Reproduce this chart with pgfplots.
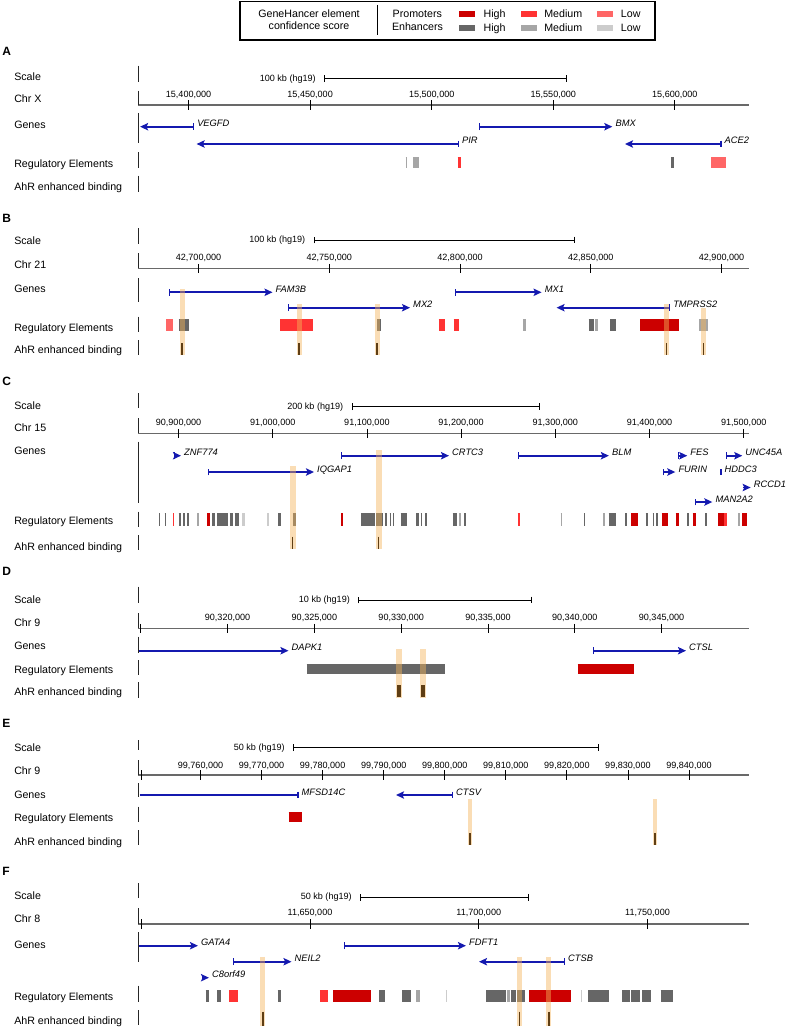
\documentclass[border=0pt]{standalone}
\usepackage{pgfplots}
\pgfplotsset{compat=1.18}
\usepackage{fontspec}
\setmainfont{Liberation Sans}
\usetikzlibrary{arrows.meta}

\definecolor{genecol}{RGB}{20,25,175}
\definecolor{promH}{RGB}{204,0,0}
\definecolor{promM}{RGB}{255,51,51}
\definecolor{promL}{RGB}{255,102,102}
\definecolor{enhH}{RGB}{102,102,102}
\definecolor{enhM}{RGB}{166,166,166}
\definecolor{enhL}{RGB}{204,204,204}
\definecolor{axgray}{RGB}{105,105,105}
\definecolor{hl}{RGB}{245,180,90}
\definecolor{ahr}{RGB}{95,62,20}

\tikzset{
  lab/.style={anchor=base west, inner sep=0pt, font=\fontsize{8}{9.6}\selectfont},
  let/.style={anchor=base west, inner sep=0pt, font=\fontsize{9}{10}\selectfont\bfseries},
  tl/.style={anchor=base, inner sep=0pt, font=\fontsize{6.8}{8}\selectfont},
  sl/.style={anchor=east, inner sep=0pt, xshift=-6pt, font=\fontsize{6.8}{8}\selectfont},
  glab/.style={anchor=base west, inner sep=0pt, xshift=2.2pt, font=\fontsize{7}{8}\selectfont\itshape},
  gene/.style={genecol, line width=1.4pt, {Bar[width=5pt,line width=0.8pt]}-{Stealth[length=6pt,width=5.5pt,inset=1.2pt]}},
  genenb/.style={genecol, line width=1.4pt, -{Stealth[length=6pt,width=5.5pt,inset=1.2pt]}},
  genebr/.style={genecol, line width=1.4pt, -{Bar[width=5pt,line width=0.8pt]}},
  sep/.style={line width=0.7pt, black!85},
}
\pgfplotsset{
  panel/.style={scale only axis, hide axis, clip=false, width=457.875pt,
    enlargelimits=false, anchor=south west},
  chrline/.style={axgray, line width=1.1pt},
  tickm/.style={black, only marks, mark=|, mark size=3.4pt, mark options={line width=0.6pt}},
  scalebar/.style={black, line width=0.6pt, {Bar[width=5pt,line width=0.6pt]}-{Bar[width=5pt,line width=0.6pt]}},
}
% regulatory element: colour/width, y, rows "start end\\"
\newcommand{\reg}[3]{\addplot[#1, quiver={u=\thisrow{e}-\thisrow{s},v=0}] table[x=s, y expr=#2, row sep=\\] {s e\\ #3};}
% vertical bands/marks: style, rows "x ytop length\\"
\newcommand{\vbar}[2]{\addplot[#1, quiver={u=0,v=\thisrow{v}}] table[x=x, y=y, row sep=\\] {x y v\\ #2};}

\begin{document}
\begin{tikzpicture}[x=0.75pt, y=-0.75pt]
\path[use as bounding box] (0,0) rectangle (787,1027);

% ---------------- Legend ----------------
\draw[line width=0.9pt] (240,1.5) rectangle (655,40);
\node[anchor=base, inner sep=0pt, font=\fontsize{8}{9.6}\selectfont] at (309,17.8) {GeneHancer element};
\node[anchor=base, inner sep=0pt, font=\fontsize{8}{9.6}\selectfont] at (309,29.8) {confidence score};
\draw[line width=1.1pt] (377.3,5) -- (377.3,35);
\node[anchor=base, inner sep=0pt, font=\fontsize{8}{9.6}\selectfont] at (417.3,17.6) {Promoters};
\node[anchor=base, inner sep=0pt, font=\fontsize{8}{9.6}\selectfont] at (417.5,31) {Enhancers};
\fill[promH] (459.3,11) rectangle (475.3,16.7);
\fill[promM] (521,11) rectangle (536.7,16.7);
\fill[promL] (597.3,11) rectangle (613.3,16.7);
\fill[enhH] (459.3,25) rectangle (475.3,31.2);
\fill[enhM] (521,25) rectangle (536.7,31.2);
\fill[enhL] (597.3,25) rectangle (613.3,31.2);
\foreach \yy in {17.8,31.6}{
  \node[lab] at (483.3,\yy) {High};
  \node[lab] at (544,\yy) {Medium};
  \node[lab] at (620.7,\yy) {Low};
}

% ---------------- Panel A ----------------
\begin{axis}[panel, at={(103.5pt,-144pt)}, height=110.25pt,
  xmin=29.2, xmax=280.3, ymin=-192, ymax=-45]
% positions in kb minus 15,350 kb (Chr X, hg19)
\addplot[scalebar] coordinates {(105.72,-78.7) (205.72,-78.7)};
\node[sl] at (105.72,-78.7) {100 kb (hg19)};
\addplot[chrline] coordinates {(29.2,-105) (280.3,-105)};
\addplot[tickm] coordinates {(50,-105) (100,-105) (150,-105) (200,-105) (250,-105)};
\node[tl] at (50,-97.6) {15,400,000};
\node[tl] at (100,-97.6) {15,450,000};
\node[tl] at (150,-97.6) {15,500,000};
\node[tl] at (200,-97.6) {15,550,000};
\node[tl] at (250,-97.6) {15,600,000};
\addplot[gene] coordinates {(52.26,-126.7) (30.06,-126.7)}; \node[glab] at (52.26,-126.7) {VEGFD};
\addplot[gene] coordinates {(169.45,-126.7) (224.3,-126.7)}; \node[glab] at (224.3,-126.7) {BMX};
\addplot[gene] coordinates {(161.2,-144) (53.3,-144)}; \node[glab] at (161.2,-144) {PIR};
\addplot[gene] coordinates {(269.2,-144) (229.5,-144)}; \node[glab] at (269.2,-144) {ACE2};
\reg{enhM, line width=8.7pt}{-162.5}{139.25 139.75\\ 142.31 144.78\\}
\reg{promM, line width=8.7pt}{-162.5}{160.61 162.25\\}
\reg{enhH, line width=8.7pt}{-162.5}{248.40 249.63\\}
\reg{promL, line width=8.7pt}{-162.5}{265.05 271.22\\}
\end{axis}

% ---------------- Panel B ----------------
\begin{axis}[panel, at={(103.5pt,-267pt)}, height=113.25pt,
  xmin=26.86, xmax=260.3, ymin=-356, ymax=-205]
% positions in kb minus 42,650 kb (Chr 21, hg19)
\addplot[scalebar] coordinates {(93.98,-240) (193.98,-240)};
\node[sl] at (93.98,-240) {100 kb (hg19)};
\addplot[chrline] coordinates {(26.86,-268.3) (260.3,-268.3)};
\addplot[tickm] coordinates {(50,-268.3) (100,-268.3) (150,-268.3) (200,-268.3) (250,-268.3)};
\node[tl] at (50,-260.6) {42,700,000};
\node[tl] at (100,-260.6) {42,750,000};
\node[tl] at (150,-260.6) {42,800,000};
\node[tl] at (200,-260.6) {42,850,000};
\node[tl] at (250,-260.6) {42,900,000};
\addplot[gene] coordinates {(38.72,-292.3) (78.30,-292.3)}; \node[glab] at (78.30,-292.3) {FAM3B};
\addplot[gene] coordinates {(148.09,-292.3) (181.17,-292.3)}; \node[glab] at (181.17,-292.3) {MX1};
\addplot[gene] coordinates {(84.03,-307.7) (130.88,-307.7)}; \node[glab] at (130.88,-307.7) {MX2};
\addplot[gene] coordinates {(230.3,-307.7) (186.9,-307.7)}; \node[glab] at (230.3,-307.7) {TMPRSS2};
\reg{promL, line width=8.55pt}{-325}{37.57 40.06\\}
\reg{enhH, line width=8.55pt}{-325}{42.35 46.37\\ 118.26 119.79\\ 199.14 201.24\\ 207.36 209.66\\}
\reg{promM, line width=8.55pt}{-325}{81.17 93.79\\ 141.78 144.07\\ 147.51 149.43\\}
\reg{enhM, line width=8.55pt}{-325}{174.09 175.24\\ 201.63 202.58\\ 241.40 244.65\\}
\reg{promH, line width=8.55pt}{-325}{218.83 233.56\\}
\vbar{hl, opacity=0.45, line width=3.75pt}{43.69 -289.3 -65.7\\ 88.43 -304 -51\\ 118.26 -304 -51\\ 228.97 -304 -51\\ 243.02 -308.3 -46.7\\}
\vbar{ahr, line width=0.9pt}{43.69 -343.3 -11.7\\ 88.43 -343.3 -11.7\\ 118.26 -343.3 -11.7\\ 228.97 -343.3 -11.7\\ 243.02 -343.3 -11.7\\}
\end{axis}

% ---------------- Panel C ----------------
\begin{axis}[panel, at={(103.5pt,-413.25pt)}, height=135.75pt,
  xmin=57.0, xmax=705.1, ymin=-551, ymax=-370]
% positions in kb minus 90,800 kb (Chr 15, hg19)
\addplot[scalebar] coordinates {(283.65,-406.7) (483.65,-406.7)};
\node[sl] at (283.65,-406.7) {200 kb (hg19)};
\addplot[chrline] coordinates {(57.0,-433.3) (705.1,-433.3)};
\addplot[tickm] coordinates {(100,-433.3) (200,-433.3) (300,-433.3) (400,-433.3) (500,-433.3) (600,-433.3) (700,-433.3)};
\node[tl] at (100,-425.6) {90,900,000};
\node[tl] at (200,-425.6) {91,000,000};
\node[tl] at (300,-425.6) {91,100,000};
\node[tl] at (400,-425.6) {91,200,000};
\node[tl] at (500,-425.6) {91,300,000};
\node[tl] at (600,-425.6) {91,400,000};
\node[tl] at (700,-425.6) {91,500,000};
\addplot[gene] coordinates {(95.22,-455.7) (102.65,-455.7)}; \node[glab] at (102.65,-455.7) {ZNF774};
\addplot[gene] coordinates {(272.5,-455.7) (387.16,-455.7)}; \node[glab] at (387.16,-455.7) {CRTC3};
\addplot[gene] coordinates {(459.87,-455.7) (556.9,-455.7)}; \node[glab] at (556.9,-455.7) {BLM};
\addplot[gene] coordinates {(629.9,-455.7) (640.1,-455.7)}; \node[glab] at (640.1,-455.7) {FES};
\addplot[gene] coordinates {(680.9,-455.7) (698.5,-455.7)}; \node[glab] at (698.5,-455.7) {UNC45A};
\addplot[gene] coordinates {(130.79,-472) (243.84,-472)}; \node[glab] at (243.84,-472) {IQGAP1};
\addplot[gene] coordinates {(614.0,-472) (627.4,-472)}; \node[glab] at (627.4,-472) {FURIN};
\addplot[genecol, line width=1.4pt, {Bar[width=4pt,line width=0.8pt]}-{Bar[width=4pt,line width=0.8pt]}] coordinates {(675.4,-472) (676.4,-472)}; \node[glab] at (676.4,-472) {HDDC3};
\addplot[genenb] coordinates {(699.6,-487.5) (707.4,-487.5)}; \node[glab] at (707.4,-487.5) {RCCD1};
\addplot[gene] coordinates {(648.0,-502) (666.7,-502)}; \node[glab] at (666.7,-502) {MAN2A2};
\reg{enhH, line width=9.5pt}{-519.7}{79.30 80.36\\ 85.35 86.73\\ 100.21 102.34\\ 104.78 106.58\\ 109.34 110.83\\ 135.56 138.43\\ 141.19 152.55\\ 154.35 157.86\\ 159.66 163.91\\ 205.63 209.13\\ 221.55 225.05\\ 294.05 308.92\\ 309.98 317.09\\ 318.90 321.34\\ 324.20 325.90\\ 327.71 328.77\\ 335.88 342.25\\ 352.44 354.99\\ 357.11 358.49\\ 362.00 363.48\\ 391.08 395.96\\ 403.08 405.20\\ 530.47 531.85\\ 556.69 564.44\\ 573.99 576.11\\ 595.96 598.09\\ 603.39 604.77\\ 606.90 609.34\\ 640.12 641.61\\ 658.92 661.36\\}
\reg{enhM, line width=9.5pt}{-519.7}{119.96 121.44\\ 398.09 399.57\\ 505.73 507.11\\ 550.95 553.08\\ 694.27 696.08\\}
\reg{enhL, line width=9.5pt}{-519.7}{167.41 170.28\\ 194.27 195.75\\}
\reg{promH, line width=9.5pt}{-519.7}{130.57 133.12\\ 272.82 274.95\\ 580.36 587.47\\ 612.95 619.32\\ 627.81 631.0\\ 645.86 649.36\\ 673.04 679.09\\ 698.52 703.19\\}
\reg{promM, line width=9.5pt}{-519.7}{94.16 95.22\\ 460.08 462.52\\ 679.09 681.96\\}
\vbar{hl, opacity=0.45, line width=4.5pt}{221.02 -466 -83.3\\ 312.31 -450 -99.3\\}
\vbar{ahr, line width=0.9pt}{221.02 -536.7 -12.6\\ 312.31 -536.7 -12.6\\}
\end{axis}

% ---------------- Panel D ----------------
\begin{axis}[panel, at={(103.5pt,-524.25pt)}, height=104.25pt,
  xmin=14.84, xmax=50.01, ymin=-699, ymax=-560]
% positions in kb minus 90,300 kb (Chr 9, hg19)
\addplot[scalebar] coordinates {(27.52,-600) (37.52,-600)};
\node[sl] at (27.52,-600) {10 kb (hg19)};
\addplot[chrline] coordinates {(14.84,-628.3) (50.01,-628.3)};
\addplot[tickm] coordinates {(14.96,-628.3) (20,-628.3) (25,-628.3) (30,-628.3) (35,-628.3) (40,-628.3) (45,-628.3)};
\node[tl] at (20,-620) {90,320,000};
\node[tl] at (25,-620) {90,325,000};
\node[tl] at (30,-620) {90,330,000};
\node[tl] at (35,-620) {90,335,000};
\node[tl] at (40,-620) {90,340,000};
\node[tl] at (45,-620) {90,345,000};
\addplot[genenb] coordinates {(14.9,-650.7) (23.51,-650.7)}; \node[glab] at (23.51,-650.7) {DAPK1};
\addplot[gene] coordinates {(41.03,-650.7) (46.41,-650.7)}; \node[glab] at (46.41,-650.7) {CTSL};
\reg{enhH, line width=7.7pt}{-668.85}{24.55 32.53\\}
\reg{promH, line width=7.7pt}{-668.85}{40.16 43.42\\}
\vbar{hl, opacity=0.45, line width=4.5pt}{29.85 -649 -48.7\\ 31.26 -649 -48.7\\}
\vbar{ahr, line width=3pt}{29.85 -685 -11.7\\ 31.26 -685 -11.7\\}
\end{axis}

% ---------------- Panel E ----------------
\begin{axis}[panel, at={(103.5pt,-634.5pt)}, height=100.5pt,
  xmin=49.76, xmax=149.75, ymin=-846, ymax=-712]
% positions in kb minus 99,700 kb (Chr 9, hg19)
\addplot[scalebar] coordinates {(75.15,-747.7) (125.15,-747.7)};
\node[sl] at (75.15,-747.7) {50 kb (hg19)};
\addplot[chrline] coordinates {(49.76,-775) (149.75,-775)};
\addplot[tickm] coordinates {(50.26,-775) (60,-775) (70,-775) (80,-775) (90,-775) (100,-775) (110,-775) (120,-775) (130,-775) (140,-775)};
\node[tl] at (60,-768.3) {99,760,000};
\node[tl] at (70,-768.3) {99,770,000};
\node[tl] at (80,-768.3) {99,780,000};
\node[tl] at (90,-768.3) {99,790,000};
\node[tl] at (100,-768.3) {99,800,000};
\node[tl] at (110,-768.3) {99,810,000};
\node[tl] at (120,-768.3) {99,820,000};
\node[tl] at (130,-768.3) {99,830,000};
\node[tl] at (140,-768.3) {99,840,000};
\addplot[genebr] coordinates {(50.01,-795) (76.05,-795)}; \node[glab] at (76.05,-795) {MFSD14C};
\addplot[gene] coordinates {(101.35,-795) (92.02,-795)}; \node[glab] at (101.35,-795) {CTSV};
\reg{promH, line width=7.5pt}{-817.3}{74.41 76.70\\}
\vbar{hl, opacity=0.45, line width=3pt}{104.14 -799.3 -45.7\\ 134.44 -799.3 -45.7\\}
\vbar{ahr, line width=0.9pt}{104.14 -833 -12\\ 134.44 -833 -12\\}
\end{axis}

% ---------------- Panel F ----------------
\begin{axis}[panel, at={(103.5pt,-769.5pt)}, height=124.5pt,
  xmin=49.04, xmax=229.93, ymin=-1026, ymax=-860]
% positions in kb minus 11,550 kb (Chr 8, hg19)
\addplot[scalebar] coordinates {(114.81,-897.3) (164.81,-897.3)};
\node[sl] at (114.81,-897.3) {50 kb (hg19)};
\addplot[chrline] coordinates {(49.04,-924) (229.93,-924)};
\addplot[tickm] coordinates {(49.93,-924) (100,-924) (150,-924) (200,-924)};
\node[tl] at (100,-915.6) {11,650,000};
\node[tl] at (150,-915.6) {11,700,000};
\node[tl] at (200,-915.6) {11,750,000};
\addplot[genenb] coordinates {(49.33,-945.7) (66.81,-945.7)}; \node[glab] at (66.81,-945.7) {GATA4};
\addplot[gene] coordinates {(110.07,-945.7) (146.22,-945.7)}; \node[glab] at (146.22,-945.7) {FDFT1};
\addplot[gene] coordinates {(77.04,-961.7) (94.52,-961.7)}; \node[glab] at (94.52,-961.7) {NEIL2};
\addplot[gene] coordinates {(175.56,-961.7) (150.07,-961.7)}; \node[glab] at (175.56,-961.7) {CTSB};
\addplot[genenb] coordinates {(68.15,-977.7) (70.07,-977.7)}; \node[glab] at (70.07,-977.7) {C8orf49};
\reg{enhH, line width=9.2pt}{-996.15}{69.10 70.16\\ 72.53 73.54\\ 90.43 91.32\\ 120.53 122.31\\ 127.35 129.84\\ 152.15 158.07\\ 159.47 161.04\\ 161.24 163.70\\ 182.46 188.59\\ 192.53 194.81\\ 195.11 197.78\\ 198.46 200.95\\ 203.91 207.47\\}
\reg{enhM, line width=9.2pt}{-996.15}{131.41 132.59\\ 158.28 159.26\\}
\reg{enhL, line width=9.2pt}{-996.15}{140.2 140.6\\ 180.21 180.68\\}
\reg{promM, line width=9.2pt}{-996.15}{76.0 78.76\\ 102.96 105.42\\}
\reg{promH, line width=9.2pt}{-996.15}{106.90 118.07\\ 164.89 177.33\\}
\vbar{hl, opacity=0.45, line width=3.75pt}{86.07 -956.7 -68.8\\ 161.99 -956.7 -68.8\\ 170.81 -956.7 -68.8\\}
\vbar{ahr, line width=0.9pt}{86.07 -1011.7 -13.8\\ 161.99 -1011.7 -13.8\\ 170.81 -1011.7 -13.8\\}
\end{axis}

% ---------------- Left labels and separators ----------------
\newcommand{\panellabels}[8]{%
  \node[let] at (2,#1) {#2};
  \node[lab] at (14,#3) {Scale};
  \node[lab] at (14,#4) {#5};
  \node[lab] at (14,#6) {Genes};
  \node[lab] at (14,#7) {Regulatory Elements};
  \node[lab] at (14,#8) {AhR enhanced binding};
}
\panellabels{55.5}{A}{81}{102.8}{Chr X}{128.8}{167}{190.5}
\panellabels{222}{B}{244.5}{268.8}{Chr 21}{292}{331.5}{353.8}
\panellabels{385.5}{C}{409.5}{431.5}{Chr 15}{454.8}{524.8}{550.5}
\panellabels{575.5}{D}{603}{626}{Chr 9}{649.8}{673.8}{695.5}
\panellabels{727}{E}{751}{774.5}{Chr 9}{798}{821.5}{845.5}
\panellabels{875.5}{F}{899.8}{922.8}{Chr 8}{948}{1000.5}{1024.5}

\foreach \a/\b in {65.7/81.7, 90.7/105, 113/143.3, 152.3/168.3, 175.7/191.7,
  228.3/244.3, 253.3/268.3, 278.3/302.3, 316.7/331.7, 340/355,
  393.3/408.3, 418.3/433.3, 441.7/503.3, 511.7/527, 535/550,
  586.7/603.3, 613.3/628.3, 636.7/653.3, 660/675, 682.3/697.7,
  740/750, 760/775, 783.3/796.7, 806.7/821.7, 830/845,
  883.3/898.3, 908.3/924, 932.3/962.3, 985.7/1001.7, 1010/1025}
  {\draw[sep] (138,\a) -- (138,\b);}
\end{tikzpicture}
\end{document}
